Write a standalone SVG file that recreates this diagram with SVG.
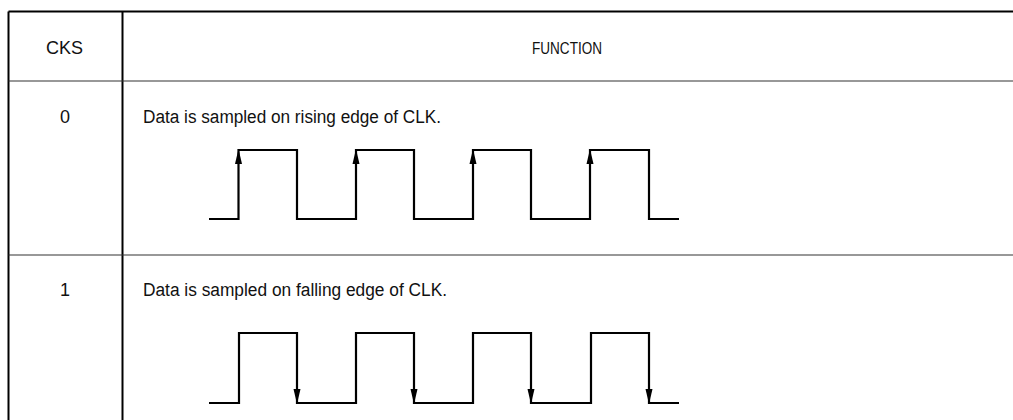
<svg xmlns="http://www.w3.org/2000/svg" xmlns:xlink="http://www.w3.org/1999/xlink" width="1013" height="420" viewBox="0 0 1013 420">
<style>
  .t { font-family: "Liberation Sans Narrow", "Liberation Sans", "DejaVu Sans Condensed", sans-serif; font-size: 18px; fill: #111; }
  .c { text-anchor: middle; }
  .border { stroke: #000; stroke-width: 2; fill: none; }
  .row { stroke: #333; stroke-width: 1.2; fill: none; }
  .wave { stroke: #000; stroke-width: 2.2; fill: none; stroke-linejoin: miter; }
  .ah { fill: #000; }
</style>
<defs>
  <polygon id="up" class="ah" points="0,0 -3.5,15 3.5,15"/>
  <polygon id="down" class="ah" points="0,0 -3.5,-15 3.5,-15"/>
</defs>
<rect width="1013" height="420" fill="#fff"/>
<g id="grid">
  <line class="border" x1="8.5" y1="11.5" x2="1013" y2="11.5"/>
  <line class="border" x1="8.5" y1="11.5" x2="8.5" y2="420"/>
  <line class="border" x1="122.5" y1="11.5" x2="122.5" y2="420"/>
  <line class="row" x1="8.5" y1="81" x2="1013" y2="81"/>
  <line class="row" x1="8.5" y1="255" x2="1013" y2="255"/>
</g>
<g id="header-cks">
  <text class="t" x="46" y="54" textLength="37" lengthAdjust="spacingAndGlyphs">CKS</text>
</g>
<g id="header-function">
  <text class="t" x="532" y="54" textLength="70" lengthAdjust="spacingAndGlyphs" style="font-size:17px">FUNCTION</text>
</g>
<g id="row0-cks">
  <text class="t c" x="65" y="123">0</text>
</g>
<g id="row0-function">
  <text class="t" x="143" y="123" textLength="298" lengthAdjust="spacingAndGlyphs">Data is sampled on rising edge of CLK.</text>
  <polyline class="wave" points="209,219 238.5,219 238.5,150 297,150 297,219 356,219 356,150 414,150 414,219 473,219 473,150 531,150 531,219 590,219 590,150 649,150 649,219 679,219"/>
  <use xlink:href="#up" x="238.5" y="149"/>
  <use xlink:href="#up" x="356" y="149"/>
  <use xlink:href="#up" x="473" y="149"/>
  <use xlink:href="#up" x="590" y="149"/>
</g>
<g id="row1-cks">
  <text class="t c" x="65" y="296">1</text>
</g>
<g id="row1-function">
  <text class="t" x="143" y="296" textLength="304" lengthAdjust="spacingAndGlyphs">Data is sampled on falling edge of CLK.</text>
  <polyline class="wave" points="209,403 239,403 239,333 297,333 297,403 356,403 356,333 414,333 414,403 473,403 473,333 531,333 531,403 591,403 591,333 649,333 649,403 679,403"/>
  <use xlink:href="#down" x="297" y="404"/>
  <use xlink:href="#down" x="414" y="404"/>
  <use xlink:href="#down" x="531" y="404"/>
  <use xlink:href="#down" x="649" y="404"/>
</g>
</svg>
